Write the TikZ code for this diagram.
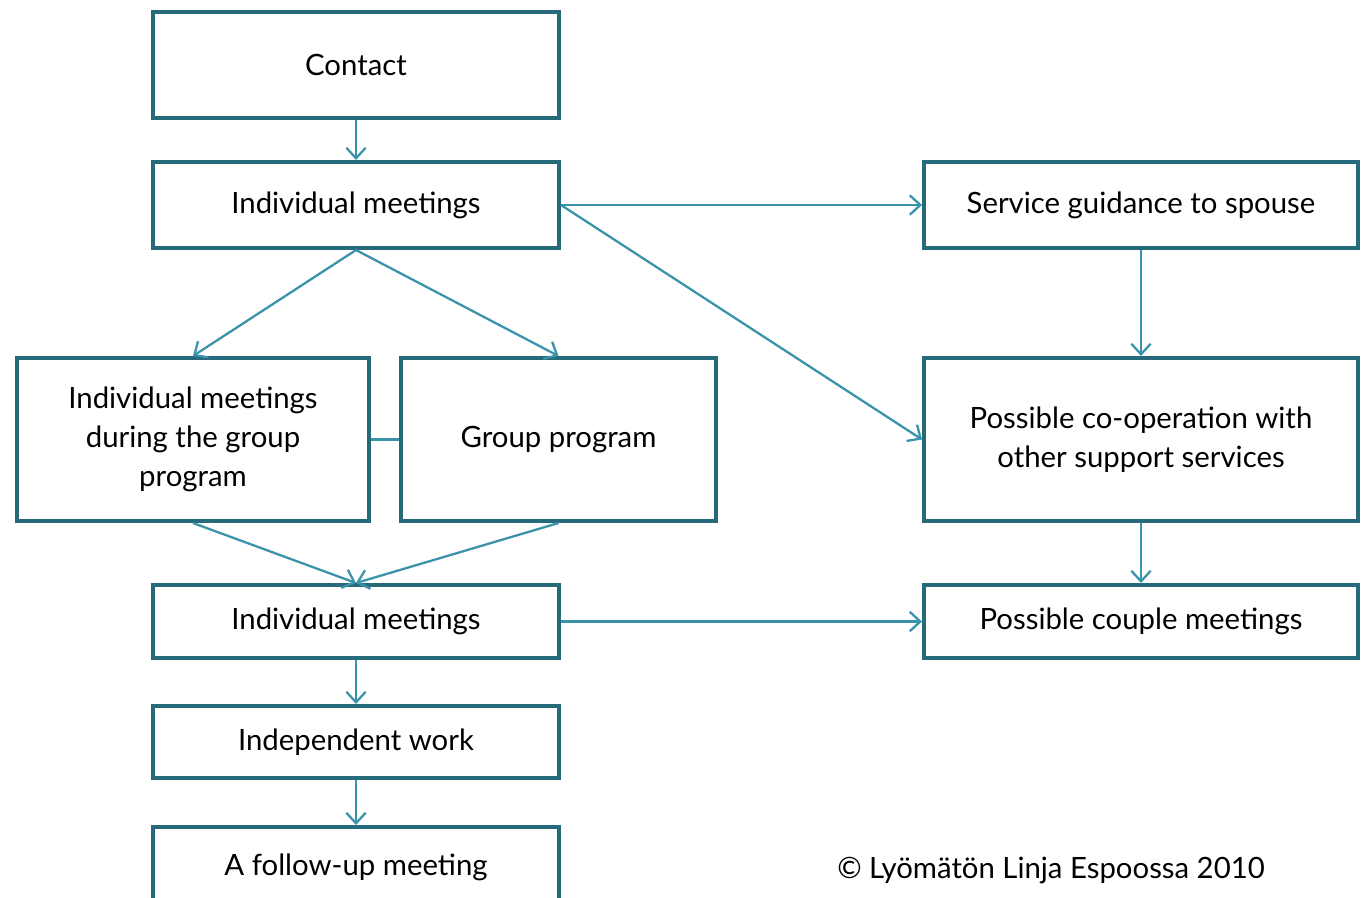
\documentclass[tikz,border=0pt]{standalone}
\usepackage{fontspec}
\setmainfont{Lato}
\usetikzlibrary{arrows.meta}
\definecolor{boxline}{HTML}{276A7C}
\definecolor{arrline}{HTML}{3A93AB}

\begin{document}
\begin{tikzpicture}[
		x=0.02cm, y=-0.02cm,
		>={Straight Barb[length=6pt,width=11pt]},
		box/.style={draw=boxline, line width=2.3pt, fill=white, inner sep=0pt,
			align=center, font=\fontsize{16.7}{22}\selectfont},
		arr/.style={->, draw=arrline, line width=1.3pt},
	]
	\useasboundingbox (0,0) rectangle (1361,897);
	% left column
	\node[box, minimum width=8.12cm, minimum height=2.12cm] (contact) at (356,65) {Contact};
	\node[box, minimum width=8.12cm, minimum height=1.72cm] (ind1) at (356,205) {Individual meetings};
	\node[box, minimum width=7.04cm, minimum height=3.26cm] (indgroup) at (193,439.5) {Individual meetings\\during the group\\program};
	\node[box, minimum width=6.30cm, minimum height=3.26cm] (group) at (558.5,439.5) {Group program};
	\node[box, minimum width=8.12cm, minimum height=1.46cm] (ind2) at (356,621.5) {Individual meetings};
	\node[box, minimum width=8.12cm, minimum height=1.44cm] (indep) at (356,742) {Independent work};
	\node[box, minimum width=8.12cm, minimum height=1.6cm] (follow) at (356,867) {A follow-up meeting};
	% right column
	\node[box, minimum width=8.68cm, minimum height=1.72cm] (spouse) at (1141,205) {Service guidance to spouse};
	\node[box, minimum width=8.68cm, minimum height=3.26cm] (coop) at (1141,439.5) {Possible co-operation with\\other support services};
	\node[box, minimum width=8.68cm, minimum height=1.46cm] (couple) at (1141,621.5) {Possible couple meetings};
	% connectors
	\draw[arr] (contact) -- (ind1);
	\draw[arr] (ind1.south) -- (indgroup.north);
	\draw[arr] (ind1.south) -- (group.north);
	\draw[arr] (ind1.east) -- (spouse.west);
	\draw[arr] (ind1.east) -- (coop.west);
	\draw[arr] (spouse) -- (coop);
	\draw[arr] (coop) -- (couple);
	\draw[draw=arrline, line width=1.3pt] (indgroup.east) -- (group.west);
	\draw[arr] (indgroup.south) -- (ind2.north);
	\draw[arr] (group.south) -- (ind2.north);
	\draw[arr] (ind2.east) -- (couple.west);
	\draw[arr] (ind2) -- (indep);
	\draw[arr] (indep) -- (follow);
	\node[font=\fontsize{16.7}{22}\selectfont] (copy) at (1051,870) {© Lyömätön Linja Espoossa 2010};
\end{tikzpicture}
\end{document}
